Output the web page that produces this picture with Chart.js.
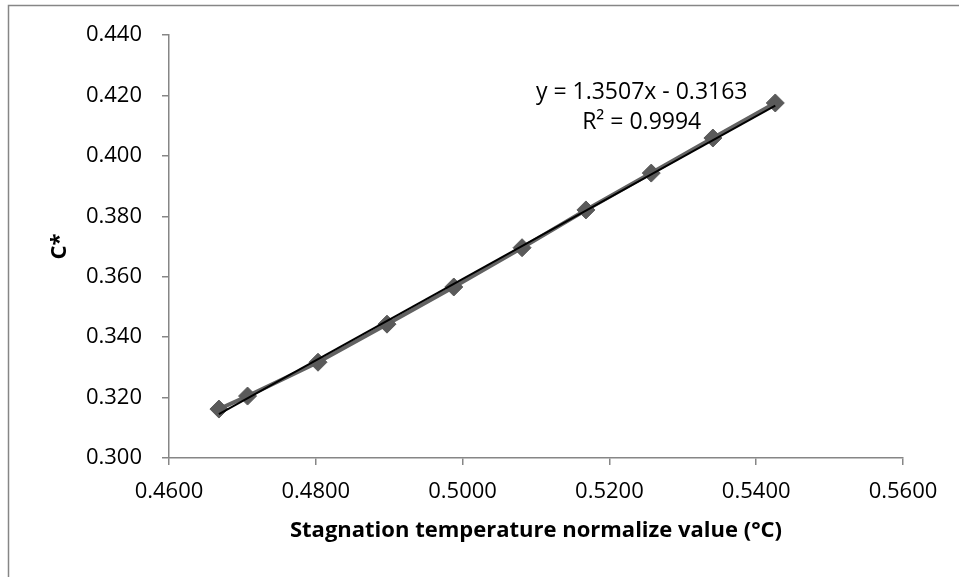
<!DOCTYPE html>
<html>
<head>
<meta charset="utf-8">
<script src="https://cdn.jsdelivr.net/npm/chart.js@4.4.0/dist/chart.umd.min.js"></script>
<style>
  html, body { margin: 0; padding: 0; background: #fff; }
  #wrap { position: relative; width: 959px; height: 577px; }
</style>
</head>
<body>
<div id="wrap"><canvas id="chart" width="959" height="577"></canvas></div>
<script>
// measured points (x = normalized stagnation temp, y = C*)
const xValues = [0.4668, 0.4707, 0.4803, 0.4897, 0.4988, 0.5081, 0.5168, 0.5257, 0.5341, 0.5426]
const cValues = [0.3162, 0.3205, 0.3317, 0.3443, 0.3566, 0.3696, 0.3821, 0.3943, 0.4059, 0.4175]

// linear trendline, ends
const trendX = [0.4668, 0.5426]
const trendY = [0.3145, 0.4166]

const eqLabel = "y = 1.3507x - 0.3163"
const r2Label = "R² = 0.9994"

const xTicks = [0.46, 0.48, 0.50, 0.52, 0.54, 0.56]
const yTicks = [0.30, 0.32, 0.34, 0.36, 0.38, 0.40, 0.42, 0.44]

const FONT = "'Open Sans', 'Liberation Sans', sans-serif"
const AXIS = "#868686"

const frame = {
    id: "frame",
    beforeDraw(chart) {
        const ctx = chart.ctx
        ctx.save()
        ctx.fillStyle = "#fff"
        ctx.fillRect(0, 0, chart.width, chart.height)
        ctx.strokeStyle = AXIS
        ctx.lineWidth = 1.5
        ctx.strokeRect(8.5, 5.5, 1200, 1200)
        ctx.restore()
    }
}

const trendText = {
    id: "trendText",
    afterDatasetsDraw(chart) {
        const { ctx, scales } = chart
        const cx = scales.x.getPixelForValue(0.5244)
        ctx.save()
        ctx.font = "23px " + FONT
        ctx.fillStyle = "#000"
        ctx.textAlign = "center"
        ctx.textBaseline = "middle"
        ctx.fillText(eqLabel, cx, scales.y.getPixelForValue(0.4211))
        ctx.fillText(r2Label, cx, scales.y.getPixelForValue(0.4109))
        ctx.restore()
    }
}

new Chart(document.getElementById("chart"), {
    type: "scatter",
    data: {
        datasets: [
            {
                label: "Linear",
                data: trendX.map((x, i) => ({ x: x, y: trendY[i] })),
                showLine: true,
                borderColor: "#000",
                borderWidth: 2,
                pointRadius: 0,
                order: 0,
            },
            {
                label: "C*",
                data: xValues.map((x, i) => ({ x: x, y: cValues[i] })),
                showLine: true,
                borderColor: "#626262",
                borderWidth: 4,
                pointStyle: "rectRot",
                pointRadius: 9,
                pointBackgroundColor: "#5a5a5a",
                pointBorderColor: "#5a5a5a",
                pointBorderWidth: 1,
                order: 1,
            },
        ],
    },
    options: {
        responsive: false,
        animation: false,
        events: [],
        layout: { padding: { top: 35, right: 56, left: 0, bottom: 0 } },
        plugins: {
            legend: { display: false },
            tooltip: { enabled: false },
        },
        scales: {
            x: {
                type: "linear",
                min: 0.46,
                max: 0.56,
                afterBuildTicks: (s) => { s.ticks = xTicks.map((v) => ({ value: v })) },
                afterFit: (s) => { s.height = 119 },
                ticks: {
                    padding: 14,
                    color: "#000",
                    font: { family: FONT, size: 22 },
                    callback: (v) => Number(v).toFixed(4),
                },
                grid: { drawOnChartArea: false, tickLength: 7, color: AXIS, lineWidth: 1.5 },
                border: { color: AXIS, width: 1.5 },
                title: {
                    display: true,
                    text: "Stagnation temperature normalize value (°C)",
                    color: "#000",
                    font: { family: FONT, size: 22, weight: "bold" },
                    padding: { top: 0, bottom: 33 },
                },
            },
            y: {
                type: "linear",
                min: 0.30,
                max: 0.44,
                afterBuildTicks: (s) => { s.ticks = yTicks.map((v) => ({ value: v })) },
                afterFit: (s) => { s.width = 169 },
                ticks: {
                    padding: 20,
                    color: "#000",
                    font: { family: FONT, size: 22 },
                    callback: (v) => Number(v).toFixed(3),
                },
                grid: { drawOnChartArea: false, tickLength: 7, color: AXIS, lineWidth: 1.5 },
                border: { color: AXIS, width: 1.5 },
                title: {
                    display: true,
                    text: "C*",
                    color: "#000",
                    font: { family: FONT, size: 22, weight: "bold" },
                    padding: { top: 47, bottom: 0 },
                },
            },
        },
    },
    plugins: [frame, trendText],
})
</script>
</body>
</html>
